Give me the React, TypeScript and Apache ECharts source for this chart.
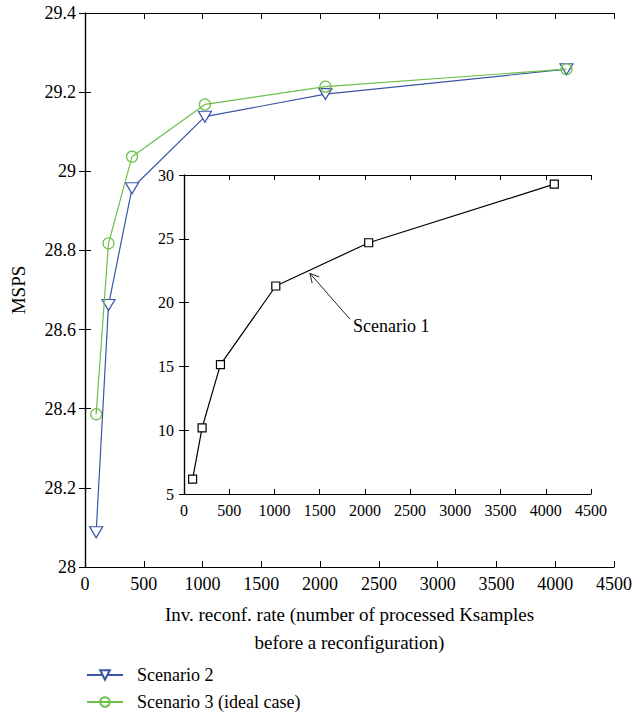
import React, { useEffect, useRef } from "react";
import * as echarts from "echarts";

// Main plot data
const xValues = [95, 200, 400, 1020, 2045, 4096];
const scenario2 = [28.088, 28.662, 28.957, 29.138, 29.195, 29.258];
const scenario3 = [28.386, 28.818, 29.037, 29.169, 29.214, 29.258];

// Inset data
const insetX = [95, 200, 403, 1015, 2042, 4094];
const scenario1 = [6.17, 10.19, 15.14, 21.3, 24.69, 29.28];

// Annotation (data coordinates of the inset)
const arrowTail = [1835, 18.7];
const arrowHead = [1392, 22.29];
const annotationText = "Scenario 1";

const seriesNames = ["Scenario 2", "Scenario 3 (ideal case)", "Scenario 1"];
const xTitle = "Inv. reconf. rate (number of processed Ksamples\nbefore a reconfiguration)";
const yTitle = "MSPS";

const FONT = "Liberation Serif";
const BLUE = "#3a55a6";
const GREEN = "#6cbf4a";

export default function App() {
  const ref = useRef<HTMLDivElement>(null);

  useEffect(() => {
    const chart = echarts.init(ref.current!, null, { renderer: "svg" });

    const line = { show: true, lineStyle: { color: "#000", width: 1.2 } };
    const tick = (len: number) => ({ show: true, inside: true, length: len, lineStyle: { color: "#000", width: 1 } });
    const label = (size: number, margin: number) => ({
      show: true,
      color: "#000",
      fontFamily: FONT,
      fontSize: size,
      margin,
      formatter: (v: number) => String(v),
    });
    const hidden = { show: false };

    const xCommon = { type: "value", min: 0, max: 4500, interval: 500, splitLine: hidden, axisLine: line };
    const yMain = { type: "value", min: 28, max: 29.4, interval: 0.2, splitLine: hidden, axisLine: line };
    const yInset = { type: "value", min: 5, max: 30, interval: 5, splitLine: hidden, axisLine: line };

    const option: any = {
      animation: false,
      backgroundColor: "#fff",
      textStyle: { fontFamily: FONT },
      grid: [
        { left: 85, top: 13, width: 529, height: 554 },
        { left: 184, top: 175, width: 407, height: 319 },
      ],
      xAxis: [
        {
          ...xCommon,
          gridIndex: 0,
          position: "bottom",
          axisTick: tick(6),
          axisLabel: label(18, 8),
          name: xTitle,
          nameLocation: "middle",
          nameGap: 33,
          nameTextStyle: { color: "#000", fontFamily: FONT, fontSize: 19, lineHeight: 28 },
        },
        { ...xCommon, gridIndex: 0, position: "top", axisTick: tick(6), axisLabel: hidden },
        { ...xCommon, gridIndex: 1, position: "bottom", axisTick: tick(5), axisLabel: label(16, 8) },
        { ...xCommon, gridIndex: 1, position: "top", axisTick: tick(5), axisLabel: hidden },
      ],
      yAxis: [
        {
          ...yMain,
          gridIndex: 0,
          position: "left",
          axisTick: tick(6),
          axisLabel: label(18, 9),
          name: yTitle,
          nameLocation: "middle",
          nameGap: 57,
          nameTextStyle: { color: "#000", fontFamily: FONT, fontSize: 19 },
        },
        { ...yMain, gridIndex: 0, position: "right", axisTick: tick(6), axisLabel: hidden },
        { ...yInset, gridIndex: 1, position: "left", axisTick: tick(5), axisLabel: label(16, 10) },
        { ...yInset, gridIndex: 1, position: "right", axisTick: tick(5), axisLabel: hidden },
      ],
      legend: {
        data: [seriesNames[0], seriesNames[1]],
        orient: "vertical",
        left: 86,
        top: 666,
        height: 49,
        padding: 0,
        itemWidth: 36,
        itemHeight: 12,
        itemGap: 9,
        textStyle: { color: "#000", fontFamily: FONT, fontSize: 18, padding: [0, 0, 0, 9] },
      },
      series: [
        {
          name: seriesNames[0],
          type: "line",
          xAxisIndex: 0,
          yAxisIndex: 0,
          data: xValues.map((x, i) => [x, scenario2[i]]),
          symbol: "triangle",
          symbolRotate: 180,
          symbolSize: [13, 11],
          showAllSymbol: true,
          lineStyle: { color: BLUE, width: 1.2 },
          itemStyle: { color: "#fff", borderColor: BLUE, borderWidth: 1.2 },
          z: 3,
        },
        {
          name: seriesNames[1],
          type: "line",
          xAxisIndex: 0,
          yAxisIndex: 0,
          data: xValues.map((x, i) => [x, scenario3[i]]),
          symbol: "circle",
          symbolSize: 11,
          showAllSymbol: true,
          lineStyle: { color: GREEN, width: 1.2 },
          itemStyle: { color: "rgba(255,255,255,0)", borderColor: GREEN, borderWidth: 1.2 },
          z: 4,
        },
        {
          name: seriesNames[2],
          type: "line",
          xAxisIndex: 2,
          yAxisIndex: 2,
          data: insetX.map((x, i) => [x, scenario1[i]]),
          symbol: "rect",
          symbolSize: 8,
          showAllSymbol: true,
          lineStyle: { color: "#000", width: 1.2 },
          itemStyle: { color: "#fff", borderColor: "#000", borderWidth: 1.2 },
          z: 3,
        },
      ],
    };

    chart.setOption(option);

    const tail = chart.convertToPixel({ gridIndex: 1 } as any, arrowTail) as number[];
    const head = chart.convertToPixel({ gridIndex: 1 } as any, arrowHead) as number[];
    const ang = Math.atan2(tail[1] - head[1], tail[0] - head[0]);
    const armLen = 10;
    const spread = (28 * Math.PI) / 180;
    const arm1 = [head[0] + armLen * Math.cos(ang + spread), head[1] + armLen * Math.sin(ang + spread)];
    const arm2 = [head[0] + armLen * Math.cos(ang - spread), head[1] + armLen * Math.sin(ang - spread)];

    chart.setOption({
      graphic: [
        {
          type: "line",
          shape: { x1: tail[0], y1: tail[1], x2: head[0], y2: head[1] },
          style: { stroke: "#222", lineWidth: 1 },
          z: 10,
        },
        {
          type: "polyline",
          shape: { points: [arm1, head, arm2] },
          style: { stroke: "#222", lineWidth: 1, fill: null },
          z: 10,
        },
        {
          type: "text",
          x: tail[0] + 3,
          y: tail[1] + 7,
          style: {
            text: annotationText,
            fontFamily: FONT,
            fontSize: 18,
            fill: "#000",
            textVerticalAlign: "middle",
            textAlign: "left",
          },
          z: 10,
        },
      ],
    });

    return () => chart.dispose();
  }, []);

  return (
    <div
      ref={ref}
      style={{ position: "absolute", left: 0, top: 0, width: 636, height: 715 }}
    />
  );
}
